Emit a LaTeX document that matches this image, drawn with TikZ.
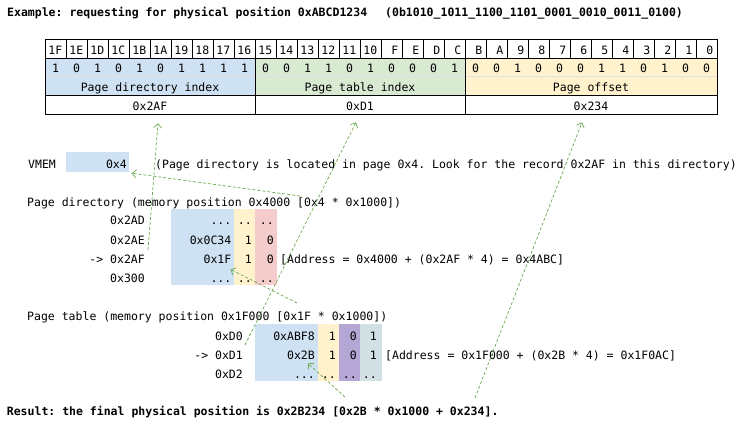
\documentclass[tikz,border=0pt]{standalone}
\usepackage{fontspec}
\newfontfamily\codefont{DejaVu Sans Mono}
\usepackage{tikz}
\usetikzlibrary{arrows.meta}
\usetikzlibrary{calc}
\frenchspacing

\definecolor{dirblue}{HTML}{CFE2F3}
\definecolor{tabgreen}{HTML}{D9EAD3}
\definecolor{offyellow}{HTML}{FFF2CC}
\definecolor{flagred}{HTML}{F4CCCC}
\definecolor{flagpurple}{HTML}{B4A7D6}
\definecolor{flagteal}{HTML}{D0E0E3}
\definecolor{linkgreen}{HTML}{6AA84F}

\begin{document}
\begin{tikzpicture}[x=1pt,y=-1pt,
    every node/.style={inner sep=0pt,font=\codefont\fontsize{11.5}{13}\selectfont},
    lt/.style={anchor=base west},
    rt/.style={anchor=base east},
    ct/.style={anchor=base},
    bold/.style={font=\codefont\bfseries\fontsize{11.5}{13}\selectfont},
    grid/.style={draw=black,line width=0.8pt},
    link/.style={draw=linkgreen,line width=0.7pt,dash pattern=on 3pt off 2pt,
      -{Straight Barb[length=4pt,width=8pt]}}]
    \useasboundingbox (0,0) rectangle (742,425);

    % heading
    \node[lt,bold] (title) at (7,16.5) {Example: requesting for physical position 0xABCD1234};
    \node[lt,bold] (titlebin) at (385,16.5) {(0b1010\_1011\_1100\_1101\_0001\_0010\_0011\_0100)};

    % address bits
    \fill[dirblue] (45,58) rectangle (255,95.5);
    \fill[tabgreen] (255,58) rectangle (465,95.5);
    \fill[offyellow] (465,58) rectangle (717,95.5);
    \draw[black!12,line width=0.5pt] (45,76.5) -- (717,76.5);
    \draw[grid] (45,39) rectangle (717,114.5);
    \draw[grid] (45,58) -- (717,58);
    \draw[grid] (45,95.5) -- (717,95.5);
    \foreach \i in {1,...,31}
        \draw[grid] ({45+21*\i},39) -- ({45+21*\i},58);
    \draw[grid] (255,39) -- (255,114.5);
    \draw[grid] (465,39) -- (465,114.5);
    \foreach \h [count=\i from 0] in {1F,1E,1D,1C,1B,1A,19,18,17,16,15,14,13,12,11,10,F,E,D,C,B,A,9,8,7,6,5,4,3,2,1,0}
        \node[rt] (hex\i) at ({62.5+21*\i},55) {\h};
    \foreach \b [count=\i from 0] in {1,0,1,0,1,0,1,1,1,1,0,0,1,1,0,1,0,0,0,1,0,0,1,0,0,0,1,1,0,1,0,0}
        \node[ct] (bit\i) at ({55.5+21*\i},73) {\b};
    \node[ct] (lblpd) at (150,92) {Page directory index};
    \node[ct] (lblpt) at (360,92) {Page table index};
    \node[ct] (lbloff) at (591,92) {Page offset};
    \node[ct] (valpd) at (150,111) {0x2AF};
    \node[ct] (valpt) at (360,111) {0xD1};
    \node[ct] (valoff) at (591,111) {0x234};

    % VMEM
    \node[lt] (vmem) at (28,168) {VMEM};
    \node[fill=dirblue,minimum width=63pt,minimum height=20pt] (vmembox) at (97.5,162) {};
    \node[rt] (vmemval) at (127,168) {0x4};
    \node[lt] (vmemnote) at (155,168) {(Page directory is located in page 0x4. Look for the record 0x2AF in this directory)};

    % page directory
    \node[lt] (pdtitle) at (27,206) {Page directory (memory position 0x4000 [0x4 * 0x1000])};
    \fill[dirblue] (171,209) rectangle (234,285);
    \fill[offyellow] (234,209) rectangle (255,285);
    \fill[flagred] (255,209) rectangle (277,285);
    \node[rt] (pdrow1) at (145,225) {0x2AD};
    \node[rt] (pdrow2) at (145,244) {0x2AE};
    \node[rt] (pdrow3) at (145,263) {-> 0x2AF};
    \node[rt] (pdrow4) at (145,282) {0x300};
    \node[rt] (pdaddr1) at (231.5,225) {...};
    \node[rt] (pdp1) at (252,225) {..};
    \node[rt] (pdf1) at (274,225) {..};
    \node[rt] (pdaddr2) at (231.5,244) {0x0C34};
    \node[rt] (pdp2) at (252,244) {1};
    \node[rt] (pdf2) at (274,244) {0};
    \node[rt] (pdaddr3) at (231.5,263) {0x1F};
    \node[rt] (pdp3) at (252,263) {1};
    \node[rt] (pdf3) at (274,263) {0};
    \node[lt] (pdnote) at (280,263) {[Address = 0x4000 + (0x2AF * 4) = 0x4ABC]};
    \node[rt] (pdaddr4) at (231.5,282) {...};
    \node[rt] (pdp4) at (252,282) {..};
    \node[rt] (pdf4) at (274,282) {..};

    % page table
    \node[lt] (pttitle) at (27,320.5) {Page table (memory position 0x1F000 [0x1F * 0x1000])};
    \fill[dirblue] (255,324) rectangle (318,381);
    \fill[offyellow] (318,324) rectangle (339,381);
    \fill[flagpurple] (339,324) rectangle (360,381);
    \fill[flagteal] (360,324) rectangle (382,381);
    \node[rt] (ptrow1) at (243,340) {0xD0};
    \node[rt] (ptrow2) at (243,359) {-> 0xD1};
    \node[rt] (ptrow3) at (243,378) {0xD2};
    \node[rt] (ptaddr1) at (315,340) {0xABF8};
    \node[rt] (ptp1) at (336,340) {1};
    \node[rt] (ptu1) at (357,340) {0};
    \node[rt] (ptw1) at (377,340) {1};
    \node[rt] (ptaddr2) at (315,359) {0x2B};
    \node[rt] (ptp2) at (336,359) {1};
    \node[rt] (ptu2) at (357,359) {0};
    \node[rt] (ptw2) at (377,359) {1};
    \node[lt] (ptnote) at (385,359) {[Address = 0x1F000 + (0x2B * 4) = 0x1F0AC]};
    \node[rt] (ptaddr3) at (315,378) {...};
    \node[rt] (ptp3) at (336,378) {..};
    \node[rt] (ptu3) at (357,378) {..};
    \node[rt] (ptw3) at (377,378) {..};

    % result
    \node[lt,bold] (result) at (6.7,415) {Result: the final physical position is 0x2B234 [0x2B * 0x1000 + 0x234].};

    % links
    \coordinate (from2AF) at (148,250);
    \coordinate (fromvmem) at (300,196);
    \coordinate (fromD1) at (245,345);
    \coordinate (from1F) at (297,303);
    \coordinate (from2B) at (345,397);
    \coordinate (from234) at (475,398);
    \path (from2AF) edge[link] ($(valpd.south)+(8,12)$);
    \path (fromvmem) edge[link] ($(vmembox.south east)+(2.5,1)$);
    \path (fromD1) edge[link] ($(valpt.south)+(-4,11)$);
    \path (from1F) edge[link] ($(pdaddr3.south east)+(-1,6)$);
    \path (from2B) edge[link] ($(ptaddr2.south east)+(-7,4)$);
    \path (from234) edge[link] ($(valoff.south)+(-9,11)$);
\end{tikzpicture}
\end{document}
